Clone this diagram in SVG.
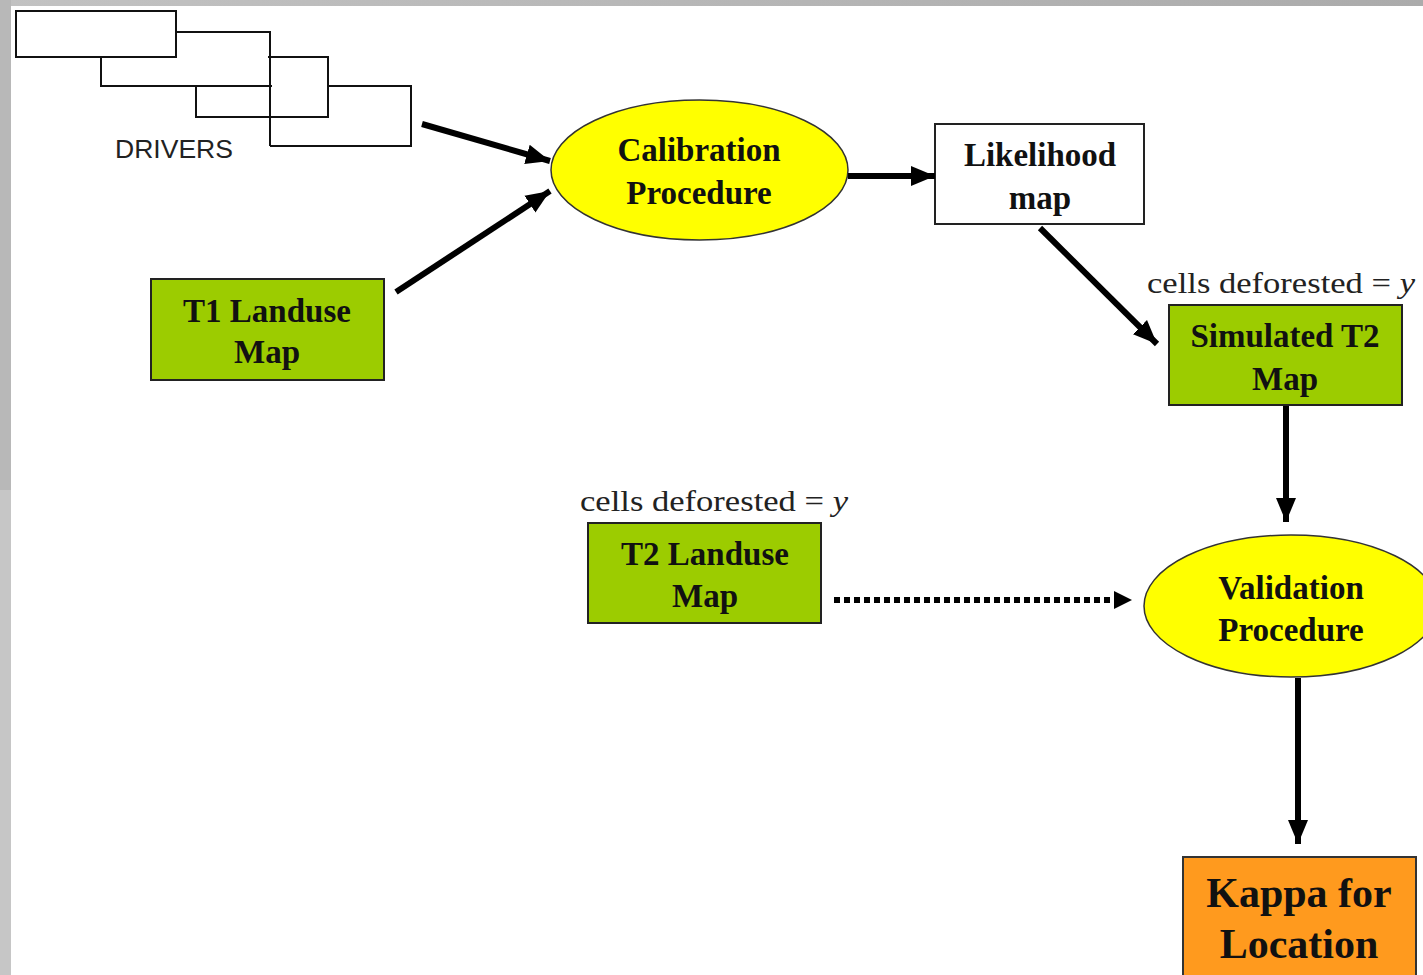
<svg xmlns="http://www.w3.org/2000/svg" width="1423" height="975" viewBox="0 0 1423 975">
<defs>
<linearGradient id="topg" x1="0" y1="0" x2="1" y2="0"><stop offset="0" stop-color="#c2c2c2"/><stop offset="1" stop-color="#ababab"/></linearGradient>
<marker id="ah" markerUnits="userSpaceOnUse" markerWidth="26" markerHeight="22" refX="24" refY="11" orient="auto"><path d="M0,1 L24,11 L0,21 Z" fill="#000"/></marker>
</defs>
<style>
.lbl{font-family:"Liberation Serif","Times New Roman",serif;font-weight:bold;fill:#111;text-anchor:middle}
.note{font-family:"Liberation Serif","Times New Roman",serif;font-size:30px;fill:#222}
.drv{fill:none;stroke:#111;stroke-width:2}
.green{fill:#9ccc00;stroke:#222;stroke-width:2}
.yel{fill:#ffff00;stroke:#333;stroke-width:1.5}
.conn{stroke:#000;stroke-width:6;fill:none}
</style>
<rect x="0" y="0" width="1423" height="975" fill="#ffffff"/>
<rect x="0" y="0" width="1423" height="6" fill="url(#topg)"/>
<rect x="0" y="0" width="11" height="490" fill="#b8b8b8"/>
<rect x="0" y="490" width="11" height="485" fill="#c6c6c6"/>

<g id="drivers">
<rect class="drv" x="16" y="11" width="160" height="46"/>
<path class="drv" d="M176,32 H270 V146 M101,57 V86 H272"/>
<path class="drv" d="M268,57 H328 V117 H196 V86"/>
<path class="drv" d="M328,86 H411 V146 H270"/>
<text x="174" y="158" font-family="Liberation Sans, Arial, sans-serif" font-size="25" fill="#222" text-anchor="middle" textLength="118" lengthAdjust="spacingAndGlyphs">DRIVERS</text>
</g>

<g id="calibration">
<ellipse class="yel" cx="699.5" cy="170" rx="148.5" ry="70"/>
<text class="lbl" x="699" y="161" font-size="33">Calibration</text>
<text class="lbl" x="699" y="204" font-size="33">Procedure</text>
</g>

<g id="likelihood">
<rect x="935" y="124" width="209" height="100" fill="#fff" stroke="#222" stroke-width="2"/>
<text class="lbl" x="1040" y="166" font-size="33">Likelihood</text>
<text class="lbl" x="1040" y="209" font-size="33">map</text>
</g>

<g id="t1">
<rect class="green" x="151" y="279" width="233" height="101"/>
<text class="lbl" x="267" y="322" font-size="33">T1 Landuse</text>
<text class="lbl" x="267" y="363" font-size="33">Map</text>
</g>

<g id="simulated">
<text class="note" x="1147" y="293" textLength="268" lengthAdjust="spacingAndGlyphs">cells deforested = <tspan font-style="italic">y</tspan></text>
<rect class="green" x="1169" y="305" width="233" height="100"/>
<text class="lbl" x="1285" y="347" font-size="33">Simulated T2</text>
<text class="lbl" x="1285" y="390" font-size="33">Map</text>
</g>

<g id="t2">
<text class="note" x="580" y="511" textLength="268" lengthAdjust="spacingAndGlyphs">cells deforested = <tspan font-style="italic">y</tspan></text>
<rect class="green" x="588" y="523" width="233" height="100"/>
<text class="lbl" x="705" y="565" font-size="33">T2 Landuse</text>
<text class="lbl" x="705" y="607" font-size="33">Map</text>
</g>

<g id="validation">
<ellipse class="yel" cx="1291" cy="606" rx="147" ry="71"/>
<text class="lbl" x="1291" y="599" font-size="33">Validation</text>
<text class="lbl" x="1291" y="641" font-size="33">Procedure</text>
</g>

<g id="kappa">
<rect x="1183" y="857" width="233" height="130" fill="#ff9a1e" stroke="#333" stroke-width="2"/>
<text class="lbl" x="1299" y="907" font-size="42">Kappa for</text>
<text class="lbl" x="1299" y="958" font-size="42">Location</text>
</g>

<g id="connectors">
<line class="conn" x1="422" y1="124" x2="550" y2="161" marker-end="url(#ah)"/>
<line class="conn" x1="396" y1="292" x2="550" y2="191" marker-end="url(#ah)"/>
<line class="conn" x1="848" y1="176" x2="935" y2="176" stroke-width="8" marker-end="url(#ah)"/>
<line class="conn" x1="1040" y1="228" x2="1157" y2="344" marker-end="url(#ah)"/>
<line class="conn" x1="1286" y1="406" x2="1286" y2="522" marker-end="url(#ah)"/>
<line class="conn" x1="834" y1="600" x2="1116" y2="600" stroke-width="6" stroke-dasharray="6,4"/>
<path d="M1114,591 L1132,600 L1114,609 Z" fill="#000"/>
<line class="conn" x1="1298" y1="678" x2="1298" y2="844" marker-end="url(#ah)"/>
</g>
</svg>
